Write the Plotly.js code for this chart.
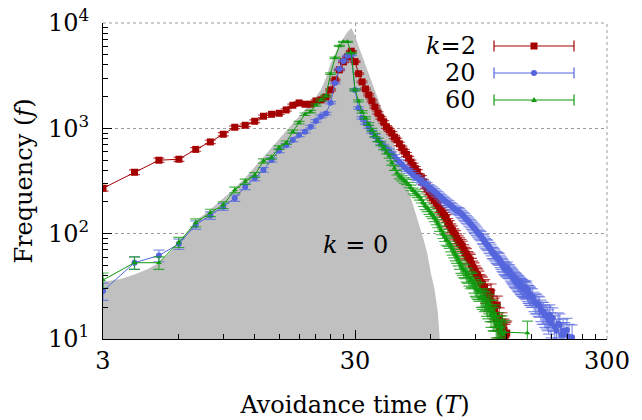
<!DOCTYPE html>
<html><head><meta charset="utf-8">
<script src="https://cdn.plot.ly/plotly-3.0.1.min.js"></script>
<style>html,body{margin:0;padding:0;background:#fff}#chart{width:642px;height:420px}</style>
</head><body><div id="chart"></div>
<script>
// k = 0 (grey filled reference curve)
const T_k0 = [3,3.5,4,4.5,5,5.5,6,6.5,7,8,9,10,11,12,13,14,15,16,17,18,19,20,21,22,23,24,25,26,27,28,29,30,31,32,33,34,35,36,37,38,39,40,42,44,46,48,50,52,54,56,58,60,62,64,65,65.5];
const f_k0 = [35,37,41,46,53,65,82,105,132,170,215,270,340,430,540,660,800,950,1100,1280,1480,1700,1980,2350,3000,4100,5200,6300,7200,8200,8985,7600,6000,4900,4000,3300,2750,2300,1900,1600,1350,1150,820,560,400,300,220,165,122,90,66,42,30,17.7,10.5,8];

// k = 2
const T_k2 = [3,4,5,6,7,8,9,10,11,12,13,14,15,16,17,18,19,20,21,22,23,24,25,26,27,28,29,30,31,32,33,34,35,36,37,38,39,40,41,42,43,44,45,46,47,48,49,50,51,52,53,54,55,56,57,58,59,60,61,62,63,64,65,66,67,68,69,70,71,72,73,74,75,76,77,78,79,80,81,82,83,84,85,86,87,88,89,90,91,92,93,94,95,96,97,98,99,100,101,102,103,104,105,106,107,108,109,110,111,112,113,114,115,116,117,118,119,120];
const f_k2 = [270,383,498,509,631,743,879,1024,1069,1167,1303,1360,1390,1495,1656,1742,1694,1694,1820,1862,1986,2317,2884,3590,4276,4766,5400,4300,3300,2761,2367,2075,1820,1597,1400,1256,1151,1031,966,900,827,777,713,653,608,566,520,478,445,414,386,351,338,310,284,266,249,233,220,208,196,187,172,163,155,147,140,128,122,113,108,101,97,90,86,82,79,76,70,66,64,60,58,56,51,48,46,43,41,40,38,35,34,33,30,31,27,28,25,23,24,28,21,19,20,17,16,21,14,15.8,13,12,14,11,12,10.5,11,11.4];

// k = 20
const T_k20 = [3,4,5,6,7,8,9,10,11,12,13,14,15,16,17,18,19,20,21,22,23,24,25,26,27,28,29,30,31,32,33,34,35,36,37,38,39,40,41,42,43,44,45,46,47,48,49,50,51,52,53,54,55,56,57,58,59,60,61,62,63,64,65,66,67,68,69,70,71,72,73,74,75,76,77,78,79,80,81,82,83,84,85,86,87,88,89,90,91,92,93,94,95,96,97,98,99,100,101,102,103,104,105,106,107,108,109,110,111,112,113,114,115,116,117,118,119,120,121,122,123,124,125,126,127,128,129,130,131,132,133,134,135,136,137,138,139,140,141,142,143,144,145,146,147,148,149,150,152,154,156,158,160,162,164,166,168,170,172,174,176,178,180,183,186,189,192,195,198,201,204,208,212,218];
const f_k20 = [28.6,53,62,80,121,149,180,217,279,336,403,501,614,691,777,865,930,1038,1175,1300,1380,1750,2700,3650,4366,4875,4980,2317,1563,1256,1125,1031,925,848,777,727,680,637,610,575,540,505,480,455,430,411,395,378,360,345,338,325,315,305,296,288,275,268,260,252,243,236,228,220,213,207,200,194,191,184,180,174,170,166,164,161,155,151,146,142,137,133,129,125,121,117,113,110,106,103,99,97,95,90,88,84,81,79,78,74,73,70,66,66,64,62,60,59,58,57.5,55,53,51,50,48,47,46,45,47,44,44,42,41,40,39,38,37,36.5,36,35,34,34,33,32,32,31,31,30,30,30,29,30,28,27,27,26,26,25,25,23,22,22,21,20.6,19,18,18,17,16.5,16,15,17,14,15.8,13,12,14,13.6,11,12,11,12.2,10.5,10.4];

// k = 60
const T_k60 = [3,4,5,6,7,8,9,10,11,12,13,14,15,16,17,18,19,20,21,22,23,24,25,26,27,28,29,30,31,32,33,34,35,36,37,38,39,40,41,42,43,44,45,46,47,48,49,50,51,52,53,54,55,56,57,58,59,60,61,62,63,64,65,66,67,68,69,70,71,72,73,74,75,76,77,78,79,80,81,82,83,84,85,86,87,88,89,90,91,92,93,94,95,96,97,98,99,100,101,102,103,104,105,106,107,108,109,110,111,112,113,114,115,116,118,145];
const f_k60 = [36.3,53,53,83,127,158,187,260,312,361,490,532,656,731,930,1133,1361,1442,1667,1862,2033,3300,4667,6065,6622,6622,5200,2317,1820,1432,1256,1101,966,865,777,713,653,597,545,470,420,380,350,335,320,310,290,272,255,245,235,223,210,195,183,175,165,158,151,142,133,125,116,108,100,94,87,85,81.6,76,71,67,63,60,57,53,49,47,45,44,41,40,38,36,37,36,33,31,30,29,28,29,25,24,25,23,23.5,21,20,22,19,17,18.9,16,15.8,17,14,13,13,14,12,11.5,13,11,11.6,11.4];

const legendLabels = ['<i>k</i>=2', '20', '60'];
const xTickVals = [3, 30, 300];
const xTickText = ['3', '30', '300'];
const yTickVals = [10, 100, 1000, 10000];
const yTickText = ['10<sup>1</sup>', '10<sup>2</sup>', '10<sup>3</sup>', '10<sup>4</sup>'];

const FONT = 'DejaVu Serif, DejaVu Sans';
const cRed = '#a40000', cBlue = '#5566dd', cGreen = '#0f9a0f';

function series(x, y, color, errColor, symbol, size) {
  return {
    x: x, y: y, type: 'scatter', mode: 'lines+markers',
    line: {color: color, width: 1},
    marker: {color: color, symbol: symbol, size: size, line: {width: 0}},
    error_y: {type: 'sqrt', visible: true, color: errColor, thickness: 1.2, width: 5.5},
    showlegend: false, hoverinfo: 'skip'
  };
}

const traces = [
  {x: T_k0, y: f_k0, type: 'scatter', mode: 'lines', fill: 'tozeroy',
   fillcolor: '#c0c0c0', line: {width: 0, color: '#c0c0c0'}, showlegend: false, hoverinfo: 'skip'},
  series(T_k2, f_k2, cRed, 'rgba(164,0,0,0.75)', 'square', 7),
  series(T_k20, f_k20, cBlue, 'rgba(85,102,221,0.7)', 'circle', 6),
  series(T_k60, f_k60, cGreen, 'rgba(15,154,15,0.75)', 'triangle-up', 5)
];

// manual gnuplot-style legend and boundary grid lines (paper coords)
const L = 103, R = 607, TOP = 23, BOT = 339;
const W = R - L, H = BOT - TOP;
const px = v => (v - L) / W, py = v => (BOT - v) / H;
const rows = [46, 73, 100];
const colors = [cRed, cBlue, cGreen];
const shapes = [
  {type: 'line', xref: 'paper', yref: 'paper', x0: 0, x1: 1, y0: 1, y1: 1, line: {color: '#9a9a9a', width: 1, dash: 'dot'}, layer: 'below'},
  {type: 'line', xref: 'paper', yref: 'paper', x0: 1, x1: 1, y0: 0, y1: 1, line: {color: '#9a9a9a', width: 1, dash: 'dot'}, layer: 'below'}
];
const annotations = [];
rows.forEach((ry, i) => {
  const c = colors[i];
  shapes.push({type: 'line', xref: 'paper', yref: 'paper', x0: px(494), x1: px(574), y0: py(ry), y1: py(ry), line: {color: c, width: 1}});
  [494, 574].forEach(cx => shapes.push({type: 'line', xref: 'paper', yref: 'paper', x0: px(cx), x1: px(cx), y0: py(ry - 5.5), y1: py(ry + 5.5), line: {color: c, width: 1.2}}));
  if (i === 0) shapes.push({type: 'rect', xref: 'paper', yref: 'paper', x0: px(530.5), x1: px(537.5), y0: py(ry - 3.5), y1: py(ry + 3.5), fillcolor: c, line: {width: 0}});
  if (i === 1) shapes.push({type: 'circle', xref: 'paper', yref: 'paper', x0: px(531), x1: px(537), y0: py(ry - 3), y1: py(ry + 3), fillcolor: c, line: {width: 0}});
  if (i === 2) shapes.push({type: 'path', xref: 'paper', yref: 'paper', path: `M${px(531)},${py(ry + 2)} L${px(537)},${py(ry + 2)} L${px(534)},${py(ry - 3)} Z`, fillcolor: c, line: {width: 0}});
  annotations.push({xref: 'paper', yref: 'paper', x: px(478), y: py(ry), xanchor: 'right', yanchor: 'middle', showarrow: false, text: legendLabels[i], font: {family: FONT, size: 24, color: '#000'}});
});
annotations.push({x: Math.log10(30), y: Math.log10(78), xref: 'x', yref: 'y', showarrow: false, text: '<i>k</i> = 0', font: {family: FONT, size: 24, color: '#000'}});

const layout = {
  width: 642, height: 420,
  margin: {l: L, r: 642 - R, t: TOP, b: 420 - BOT},
  paper_bgcolor: '#fff', plot_bgcolor: '#fff',
  font: {family: FONT, color: '#000', size: 24},
  showlegend: false,
  xaxis: {
    type: 'log', range: [Math.log10(3), Math.log10(300)],
    tickmode: 'array', tickvals: xTickVals, ticktext: xTickText,
    ticks: 'inside', ticklen: 9, tickwidth: 1, tickcolor: '#000',
    showline: true, linecolor: '#000', linewidth: 1, mirror: false, zeroline: false,
    showgrid: true, gridcolor: '#9a9a9a', griddash: 'dot', gridwidth: 1,
    minor: {tickmode: 'array', tickvals: [6,9,12,15,18,21,24,27,60,90,120,150,180,210,240,270], ticks: 'inside', ticklen: 5, tickcolor: '#000', showgrid: false},
    tickfont: {family: FONT, size: 24, color: '#000'},
    title: {text: 'Avoidance time (<i>T</i>)', font: {family: FONT, size: 24, color: '#000'}, standoff: 22},
    automargin: false
  },
  yaxis: {
    type: 'log', range: [1, 4],
    tickmode: 'array', tickvals: yTickVals, ticktext: yTickText,
    ticks: 'inside', ticklen: 9, tickwidth: 1, tickcolor: '#000',
    showline: true, linecolor: '#000', linewidth: 1, mirror: false, zeroline: false,
    showgrid: true, gridcolor: '#9a9a9a', griddash: 'dot', gridwidth: 1,
    minor: {tickmode: 'array', tickvals: [20,30,40,50,60,70,80,90,200,300,400,500,600,700,800,900,2000,3000,4000,5000,6000,7000,8000,9000], ticks: 'inside', ticklen: 5, tickcolor: '#000', showgrid: false},
    tickfont: {family: FONT, size: 24, color: '#000'},
    ticklabelstandoff: 8,
    title: {text: 'Frequency (<i>f</i>)', font: {family: FONT, size: 24, color: '#000'}, standoff: 8},
    automargin: false
  },
  shapes: shapes,
  annotations: annotations
};

Plotly.newPlot('chart', traces, layout, {displayModeBar: false, staticPlot: true});
</script>
</body></html>
